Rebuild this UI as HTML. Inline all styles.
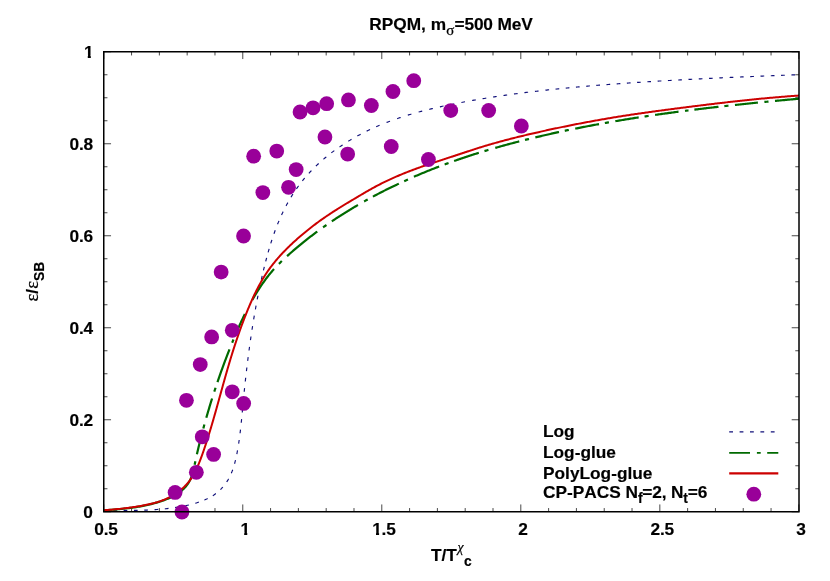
<!DOCTYPE html>
<html><head><meta charset="utf-8"><title>RPQM</title>
<style>
html,body{margin:0;padding:0;background:#fff;}
body{width:830px;height:581px;overflow:hidden;font-family:"Liberation Sans",sans-serif;}
svg{display:block;will-change:transform;}
</style></head><body>
<svg width="830" height="581" viewBox="0 0 830 581">
<rect width="830" height="581" fill="#fff"/>
<defs><clipPath id="cp"><rect x="103.75" y="43.75" width="695.25" height="476.00"/></clipPath></defs>
<defs><clipPath id="one"><rect x="0" y="-15" width="11" height="12.24"/><rect x="3.69" y="-3" width="3.07" height="4"/></clipPath></defs>
<path d="M103.75 511.75v-7.30M103.75 51.75v7.30M131.55 511.75v-3.70M131.55 51.75v3.70M159.36 511.75v-3.70M159.36 51.75v3.70M187.16 511.75v-3.70M187.16 51.75v3.70M214.97 511.75v-3.70M214.97 51.75v3.70M242.77 511.75v-7.30M242.77 51.75v7.30M270.57 511.75v-3.70M270.57 51.75v3.70M298.38 511.75v-3.70M298.38 51.75v3.70M326.18 511.75v-3.70M326.18 51.75v3.70M353.99 511.75v-3.70M353.99 51.75v3.70M381.79 511.75v-7.30M381.79 51.75v7.30M409.59 511.75v-3.70M409.59 51.75v3.70M437.40 511.75v-3.70M437.40 51.75v3.70M465.20 511.75v-3.70M465.20 51.75v3.70M493.01 511.75v-3.70M493.01 51.75v3.70M520.81 511.75v-7.30M520.81 51.75v7.30M548.61 511.75v-3.70M548.61 51.75v3.70M576.42 511.75v-3.70M576.42 51.75v3.70M604.22 511.75v-3.70M604.22 51.75v3.70M632.03 511.75v-3.70M632.03 51.75v3.70M659.83 511.75v-7.30M659.83 51.75v7.30M687.63 511.75v-3.70M687.63 51.75v3.70M715.44 511.75v-3.70M715.44 51.75v3.70M743.24 511.75v-3.70M743.24 51.75v3.70M771.05 511.75v-3.70M771.05 51.75v3.70M798.85 511.75v-7.30M798.85 51.75v7.30M103.75 511.75h7.30M799.00 511.75h-7.30M103.75 488.75h3.70M799.00 488.75h-3.70M103.75 465.75h3.70M799.00 465.75h-3.70M103.75 442.75h3.70M799.00 442.75h-3.70M103.75 419.75h7.30M799.00 419.75h-7.30M103.75 396.75h3.70M799.00 396.75h-3.70M103.75 373.75h3.70M799.00 373.75h-3.70M103.75 350.75h3.70M799.00 350.75h-3.70M103.75 327.75h7.30M799.00 327.75h-7.30M103.75 304.75h3.70M799.00 304.75h-3.70M103.75 281.75h3.70M799.00 281.75h-3.70M103.75 258.75h3.70M799.00 258.75h-3.70M103.75 235.75h7.30M799.00 235.75h-7.30M103.75 212.75h3.70M799.00 212.75h-3.70M103.75 189.75h3.70M799.00 189.75h-3.70M103.75 166.75h3.70M799.00 166.75h-3.70M103.75 143.75h7.30M799.00 143.75h-7.30M103.75 120.75h3.70M799.00 120.75h-3.70M103.75 97.75h3.70M799.00 97.75h-3.70M103.75 74.75h3.70M799.00 74.75h-3.70M103.75 51.75h7.30M799.00 51.75h-7.30" stroke="#000" stroke-width="0.72" fill="none"/>
<g clip-path="url(#cp)" fill="none" stroke-linejoin="round">
<path d="M104.19 511.02L105.49 510.98L106.79 510.94L108.08 510.91L109.38 510.87L110.67 510.84L111.97 510.81L113.26 510.79L114.55 510.76L115.85 510.74L117.14 510.72L118.43 510.69L119.72 510.67L121.01 510.65L122.30 510.63L123.59 510.62L124.87 510.60L126.16 510.58L127.45 510.56L128.73 510.54L130.02 510.52L131.30 510.49L132.59 510.47L133.87 510.44L135.16 510.42L136.44 510.39L137.72 510.36L139.00 510.33L140.29 510.29L141.57 510.25L142.85 510.21L144.13 510.17L145.41 510.12L146.69 510.07L147.97 510.01L149.25 509.95L150.53 509.89L151.81 509.82L153.09 509.75L154.36 509.67L155.64 509.59L156.92 509.50L158.20 509.41L159.47 509.31L160.75 509.20L162.03 509.09L163.30 508.97L164.58 508.85L165.86 508.72L167.13 508.58L168.41 508.43L169.68 508.28L170.96 508.12L172.24 507.95L173.51 507.78L174.79 507.59L176.06 507.40L177.34 507.20L178.61 506.98L179.89 506.76L181.16 506.53L182.44 506.30L183.71 506.05L184.99 505.79L186.26 505.52L187.54 505.24L188.81 504.95L190.09 504.65L191.36 504.33L192.63 504.00L193.89 503.66L195.15 503.30L196.40 502.93L197.65 502.54L198.89 502.13L200.12 501.71L201.34 501.27L202.55 500.80L203.75 500.32L204.94 499.82L206.11 499.29L207.27 498.75L208.42 498.17L209.55 497.58L210.67 496.96L211.76 496.32L212.84 495.65L213.90 494.95L214.94 494.22L215.96 493.47L216.96 492.69L217.94 491.88L218.89 491.05L219.82 490.19L220.73 489.31L221.62 488.40L222.47 487.47L223.31 486.51L224.12 485.54L224.90 484.54L225.65 483.52L226.38 482.49L227.07 481.43L227.74 480.35L228.39 479.25L229.00 478.14L229.59 477.01L230.15 475.87L230.69 474.71L231.20 473.53L231.70 472.34L232.17 471.14L232.62 469.93L233.05 468.71L233.46 467.48L233.85 466.24L234.22 464.99L234.58 463.73L234.92 462.47L235.25 461.20L235.56 459.93L235.86 458.65L236.14 457.37L236.42 456.09L236.68 454.81L236.94 453.53L237.18 452.25L237.42 450.96L237.65 449.68L237.87 448.40L238.09 447.13L238.30 445.85L238.50 444.57L238.70 443.30L238.89 442.02L239.07 440.75L239.25 439.48L239.42 438.20L239.59 436.93L239.76 435.66L239.92 434.38L240.08 433.11L240.23 431.84L240.38 430.56L240.53 429.29L240.67 428.01L240.82 426.74L240.96 425.46L241.09 424.18L241.23 422.91L241.36 421.63L241.49 420.35L241.62 419.08L241.75 417.80L241.87 416.52L242.00 415.24L242.12 413.96L242.24 412.68L242.36 411.41L242.48 410.13L242.60 408.85L242.72 407.57L242.84 406.29L242.96 405.01L243.08 403.73L243.20 402.45L243.32 401.17L243.44 399.89L243.56 398.61L243.68 397.33L243.80 396.05L243.92 394.77L244.05 393.49L244.17 392.21L244.30 390.93L244.42 389.65L244.55 388.37L244.68 387.09L244.82 385.81L244.95 384.53L245.09 383.26L245.23 381.98L245.36 380.70L245.50 379.42L245.65 378.14L245.79 376.86L245.93 375.58L246.08 374.31L246.23 373.03L246.37 371.75L246.52 370.47L246.67 369.19L246.83 367.91L246.98 366.63L247.13 365.36L247.29 364.08L247.45 362.80L247.60 361.52L247.76 360.24L247.92 358.97L248.09 357.69L248.25 356.41L248.41 355.13L248.58 353.86L248.75 352.58L248.92 351.30L249.09 350.02L249.26 348.75L249.43 347.47L249.61 346.19L249.78 344.92L249.96 343.64L250.14 342.36L250.32 341.09L250.50 339.81L250.69 338.54L250.87 337.26L251.06 335.99L251.25 334.71L251.44 333.44L251.63 332.16L251.83 330.89L252.02 329.62L252.22 328.34L252.42 327.07L252.62 325.80L252.82 324.52L253.03 323.25L253.24 321.98L253.44 320.71L253.65 319.44L253.87 318.17L254.08 316.90L254.30 315.63L254.52 314.36L254.74 313.09L254.96 311.82L255.18 310.55L255.41 309.28L255.64 308.01L255.87 306.75L256.10 305.48L256.33 304.21L256.57 302.95L256.81 301.68L257.05 300.42L257.29 299.15L257.54 297.89L257.78 296.63L258.03 295.36L258.29 294.10L258.54 292.84L258.80 291.58L259.05 290.32L259.31 289.06L259.58 287.80L259.84 286.54L260.11 285.28L260.38 284.02L260.65 282.76L260.93 281.51L261.21 280.25L261.49 279.00L261.77 277.74L262.06 276.49L262.34 275.23L262.63 273.98L262.93 272.73L263.22 271.48L263.52 270.23L263.82 268.98L264.12 267.73L264.43 266.48L264.74 265.23L265.05 263.98L265.36 262.74L265.68 261.49L266.00 260.25L266.32 259.00L266.65 257.76L266.98 256.52L267.32 255.28L267.66 254.04L268.00 252.80L268.35 251.56L268.70 250.33L269.06 249.10L269.42 247.86L269.79 246.63L270.16 245.40L270.54 244.17L270.92 242.95L271.30 241.72L271.70 240.50L272.09 239.28L272.50 238.05L272.91 236.84L273.32 235.62L273.74 234.41L274.17 233.19L274.61 231.98L275.05 230.77L275.50 229.57L275.95 228.36L276.41 227.16L276.88 225.96L277.36 224.76L277.84 223.56L278.33 222.37L278.83 221.18L279.33 219.99L279.85 218.80L280.37 217.62L280.90 216.44L281.43 215.26L281.98 214.09L282.53 212.92L283.09 211.75L283.66 210.59L284.24 209.43L284.82 208.28L285.41 207.13L286.01 205.98L286.62 204.84L287.24 203.70L287.87 202.57L288.50 201.44L289.14 200.32L289.79 199.20L290.45 198.09L291.12 196.99L291.79 195.89L292.48 194.79L293.17 193.70L293.87 192.62L294.58 191.55L295.30 190.48L296.03 189.41L296.76 188.36L297.51 187.31L298.26 186.27L299.02 185.23L299.80 184.21L300.58 183.18L301.37 182.17L302.16 181.17L302.97 180.17L303.78 179.17L304.60 178.19L305.43 177.21L306.27 176.24L307.12 175.28L307.97 174.32L308.83 173.37L309.70 172.43L310.58 171.49L311.46 170.56L312.35 169.64L313.25 168.72L314.16 167.82L315.07 166.92L315.99 166.02L316.92 165.14L317.86 164.26L318.80 163.38L319.75 162.52L320.70 161.66L321.66 160.80L322.63 159.96L323.60 159.12L324.58 158.29L325.57 157.46L326.56 156.65L327.56 155.83L328.56 155.03L329.57 154.23L330.59 153.44L331.61 152.66L332.64 151.88L333.67 151.11L334.71 150.35L335.75 149.59L336.80 148.84L337.85 148.10L338.91 147.36L339.98 146.63L341.04 145.91L342.12 145.19L343.19 144.49L344.28 143.78L345.36 143.09L346.45 142.40L347.55 141.72L348.65 141.04L349.75 140.37L350.86 139.71L351.97 139.05L353.09 138.40L354.21 137.76L355.33 137.13L356.46 136.50L357.59 135.87L358.73 135.26L359.86 134.65L361.00 134.05L362.15 133.45L363.29 132.86L364.44 132.28L365.60 131.70L366.75 131.13L367.91 130.57L369.07 130.01L370.24 129.46L371.40 128.92L372.57 128.38L373.74 127.85L374.92 127.32L376.09 126.81L377.27 126.29L378.45 125.79L379.64 125.29L380.82 124.79L382.01 124.30L383.20 123.82L384.39 123.34L385.59 122.87L386.78 122.41L387.98 121.95L389.18 121.49L390.38 121.04L391.59 120.60L392.80 120.16L394.01 119.73L395.22 119.30L396.43 118.88L397.64 118.46L398.86 118.05L400.08 117.64L401.30 117.24L402.52 116.84L403.74 116.45L404.97 116.06L406.19 115.68L407.42 115.30L408.65 114.92L409.88 114.56L411.12 114.19L412.35 113.83L413.59 113.47L414.82 113.12L416.06 112.77L417.30 112.43L418.54 112.09L419.79 111.75L421.03 111.42L422.28 111.09L423.52 110.76L424.77 110.44L426.02 110.13L427.27 109.81L428.52 109.50L429.77 109.19L431.02 108.89L432.28 108.59L433.53 108.29L434.79 108.00L436.04 107.71L437.30 107.42L438.56 107.14L439.82 106.86L441.08 106.58L442.34 106.30L443.60 106.03L444.86 105.76L446.13 105.49L447.39 105.23L448.65 104.97L449.92 104.71L451.18 104.45L452.45 104.20L453.71 103.94L454.98 103.69L456.24 103.45L457.51 103.20L458.78 102.96L460.05 102.71L461.31 102.48L462.58 102.24L463.85 102.00L465.12 101.77L466.39 101.53L467.66 101.30L468.92 101.07L470.19 100.85L471.46 100.62L472.73 100.40L474.00 100.18L475.27 99.96L476.54 99.74L477.81 99.52L479.08 99.30L480.35 99.09L481.62 98.88L482.90 98.67L484.17 98.46L485.44 98.25L486.71 98.05L487.98 97.85L489.25 97.64L490.52 97.44L491.80 97.24L493.07 97.05L494.34 96.85L495.61 96.66L496.89 96.47L498.16 96.27L499.43 96.08L500.71 95.90L501.98 95.71L503.25 95.53L504.53 95.34L505.80 95.16L507.08 94.98L508.35 94.80L509.63 94.62L510.90 94.45L512.18 94.27L513.45 94.10L514.73 93.93L516.00 93.76L517.28 93.59L518.55 93.42L519.83 93.25L521.10 93.09L522.38 92.92L523.66 92.76L524.93 92.60L526.21 92.44L527.49 92.28L528.76 92.13L530.04 91.97L531.32 91.82L532.59 91.66L533.87 91.51L535.15 91.36L536.43 91.21L537.70 91.06L538.98 90.91L540.26 90.77L541.54 90.62L542.82 90.48L544.10 90.34L545.37 90.20L546.65 90.06L547.93 89.92L549.21 89.78L550.49 89.64L551.77 89.51L553.05 89.37L554.33 89.24L555.61 89.11L556.89 88.98L558.17 88.85L559.45 88.72L560.73 88.59L562.01 88.46L563.29 88.34L564.57 88.21L565.85 88.09L567.13 87.96L568.41 87.84L569.69 87.72L570.97 87.60L572.25 87.48L573.53 87.36L574.81 87.24L576.10 87.13L577.38 87.01L578.66 86.90L579.94 86.78L581.22 86.67L582.50 86.56L583.79 86.45L585.07 86.34L586.35 86.23L587.63 86.12L588.91 86.01L590.20 85.90L591.48 85.80L592.76 85.69L594.04 85.59L595.33 85.48L596.61 85.38L597.89 85.28L599.18 85.17L600.46 85.07L601.74 84.97L603.02 84.87L604.31 84.77L605.59 84.67L606.87 84.58L608.16 84.48L609.44 84.38L610.73 84.29L612.01 84.19L613.29 84.10L614.58 84.00L615.86 83.91L617.14 83.82L618.43 83.72L619.71 83.63L621.00 83.54L622.28 83.45L623.57 83.36L624.85 83.27L626.13 83.18L627.42 83.09L628.70 83.01L629.99 82.92L631.27 82.83L632.56 82.75L633.84 82.66L635.13 82.57L636.41 82.49L637.70 82.41L638.98 82.32L640.27 82.24L641.55 82.16L642.84 82.07L644.12 81.99L645.41 81.91L646.69 81.83L647.98 81.75L649.26 81.67L650.55 81.59L651.83 81.51L653.12 81.43L654.40 81.35L655.69 81.28L656.97 81.20L658.26 81.12L659.55 81.05L660.83 80.97L662.12 80.90L663.40 80.82L664.69 80.75L665.97 80.67L667.26 80.60L668.55 80.53L669.83 80.45L671.12 80.38L672.40 80.31L673.69 80.24L674.98 80.17L676.26 80.10L677.55 80.03L678.83 79.96L680.12 79.89L681.41 79.82L682.69 79.75L683.98 79.68L685.26 79.61L686.55 79.54L687.84 79.48L689.12 79.41L690.41 79.34L691.70 79.28L692.98 79.21L694.27 79.15L695.55 79.08L696.84 79.02L698.13 78.95L699.41 78.89L700.70 78.82L701.99 78.76L703.27 78.70L704.56 78.64L705.85 78.57L707.13 78.51L708.42 78.45L709.71 78.39L710.99 78.33L712.28 78.27L713.56 78.20L714.85 78.14L716.14 78.08L717.42 78.02L718.71 77.97L720.00 77.91L721.28 77.85L722.57 77.79L723.86 77.73L725.14 77.67L726.43 77.61L727.72 77.56L729.00 77.50L730.29 77.44L731.58 77.39L732.86 77.33L734.15 77.27L735.43 77.22L736.72 77.16L738.01 77.11L739.29 77.05L740.58 77.00L741.87 76.94L743.15 76.89L744.44 76.83L745.73 76.78L747.01 76.72L748.30 76.67L749.58 76.62L750.87 76.56L752.16 76.51L753.44 76.46L754.73 76.40L756.02 76.35L757.30 76.30L758.59 76.25L759.87 76.19L761.16 76.14L762.45 76.09L763.73 76.04L765.02 75.99L766.30 75.94L767.59 75.88L768.88 75.83L770.16 75.78L771.45 75.73L772.73 75.68L774.02 75.63L775.31 75.58L776.59 75.53L777.88 75.48L779.16 75.43L780.45 75.38L781.73 75.33L783.02 75.28L784.30 75.23L785.59 75.18L786.88 75.13L788.16 75.08L789.45 75.03L790.73 74.98L792.02 74.94L793.30 74.89L794.59 74.84L795.87 74.79L797.16 74.74L798.44 74.69L799.08 74.67" stroke="#10107a" stroke-width="1.15" stroke-dasharray="2.47 6.63 3.70 6.63 3.70 6.63 3.70 6.62 3.70 6.62 3.70 6.62 3.70 6.62 3.70 6.62 3.70 6.62 3.70 5.90 3.70 5.90 3.70 5.90 3.70 6.29 3.70 6.29 3.70 6.29 3.70 6.29 3.70 6.82 3.70 6.82 3.70 6.82 3.70 6.68 3.70 6.68 3.70 6.68 3.70 6.68 3.70 6.68 3.70 6.68 3.70 6.68 3.70 6.82 3.70 6.82 3.70 6.82 3.70 6.44 3.70 6.44 3.70 6.44 3.70 6.44 3.70 5.62 3.70 5.62 3.70 5.62 3.70 5.62 3.70 6.46 3.70 6.46 3.70 6.46 3.70 6.46 3.70 6.27 3.70 6.27 3.70 6.27 3.70 6.27 3.70 6.43 3.70 6.43 3.70 6.43 3.70 6.43 3.70 6.77 3.70 6.77 3.70 6.77 3.70 6.77 3.70 7.54 3.70 7.54 3.70 7.54 3.70 7.54 3.70 7.26 3.70 7.26 3.70 7.26 3.70 7.26 3.70 7.26 3.70 6.87 3.70 6.87 3.70 6.87 3.70 6.87 3.70 6.87 3.70 6.87 3.70 6.87 3.70 6.52 3.70 6.52 3.70 6.52 3.70 6.52 3.70 6.52 3.70 6.52 3.70 6.52 3.70 6.52 3.70 6.52 3.70 6.60 3.70 6.60 3.70 6.60 3.70 6.60 3.70 6.60 3.70 6.60 3.70 6.60 3.70 6.60 3.70 6.60 3.70 6.60 3.70 6.60 3.70 6.60 3.70 6.60 3.70 6.60 3.70 6.60 3.70 50.00"/>
<path d="M104.20 510.41L105.39 510.32L106.58 510.23L107.77 510.13L108.96 510.04L110.15 509.94L111.33 509.85L112.52 509.75L113.70 509.65L114.89 509.55L116.07 509.45L117.25 509.34L118.43 509.23L119.61 509.12L120.78 509.01L121.96 508.89L123.14 508.77L124.31 508.64L125.48 508.51L126.65 508.38L127.82 508.24L128.99 508.10L130.16 507.95L131.33 507.80L132.49 507.64L133.66 507.47L134.82 507.30L135.98 507.13L137.15 506.94L138.31 506.75L139.46 506.55L140.62 506.35L141.78 506.14L142.93 505.92L144.09 505.69L145.24 505.46L146.39 505.21L147.54 504.96L148.69 504.70L149.84 504.43L150.98 504.15L152.13 503.86L153.27 503.56L154.42 503.25L155.56 502.93L156.70 502.60L157.84 502.26L158.98 501.90L160.11 501.54L161.25 501.16L162.38 500.78L163.51 500.37L164.64 499.96L165.77 499.53L166.89 499.08L168.01 498.62L169.12 498.14L170.22 497.65L171.32 497.13L172.40 496.59L173.48 496.04L174.54 495.46L175.58 494.87L176.61 494.25L177.62 493.61L178.61 492.94L179.58 492.25L180.52 491.54L181.44 490.80L182.34 490.04L183.21 489.25L184.04 488.43L184.85 487.59L185.63 486.73L186.37 485.84L187.08 484.93L187.75 484.00L188.39 483.04L188.99 482.06L189.55 481.06L190.07 480.03L190.56 478.99L191.01 477.93L191.43 476.85L191.83 475.76L192.19 474.65L192.54 473.53L192.86 472.40L193.16 471.26L193.45 470.10L193.73 468.95L193.99 467.78L194.24 466.62L194.49 465.45L194.74 464.27L194.99 463.10L195.24 461.93L195.49 460.76L195.74 459.59L195.99 458.43L196.25 457.26L196.51 456.10L196.77 454.93L197.03 453.77L197.29 452.61L197.56 451.46L197.83 450.30L198.10 449.14L198.37 447.99L198.65 446.83L198.93 445.68L199.21 444.53L199.49 443.38L199.77 442.23L200.05 441.08L200.34 439.93L200.63 438.78L200.92 437.64L201.21 436.49L201.51 435.35L201.81 434.20L202.10 433.06L202.41 431.92L202.71 430.78L203.01 429.64L203.32 428.50L203.63 427.36L203.94 426.22L204.25 425.08L204.56 423.94L204.88 422.81L205.20 421.67L205.52 420.53L205.84 419.40L206.16 418.26L206.48 417.13L206.81 415.99L207.14 414.86L207.47 413.73L207.80 412.59L208.13 411.46L208.47 410.33L208.81 409.20L209.15 408.07L209.49 406.93L209.83 405.80L210.17 404.67L210.52 403.54L210.87 402.41L211.22 401.29L211.57 400.16L211.92 399.03L212.28 397.90L212.64 396.77L213.00 395.65L213.36 394.52L213.72 393.40L214.08 392.27L214.45 391.15L214.82 390.02L215.19 388.90L215.56 387.77L215.93 386.65L216.31 385.53L216.69 384.41L217.06 383.29L217.44 382.17L217.83 381.05L218.21 379.93L218.60 378.81L218.99 377.69L219.38 376.57L219.77 375.46L220.16 374.34L220.56 373.22L220.95 372.11L221.35 370.99L221.75 369.88L222.15 368.76L222.56 367.65L222.97 366.54L223.37 365.43L223.78 364.32L224.19 363.20L224.61 362.09L225.02 360.99L225.44 359.88L225.86 358.77L226.28 357.66L226.70 356.55L227.13 355.45L227.55 354.34L227.98 353.24L228.41 352.13L228.84 351.03L229.28 349.93L229.71 348.83L230.15 347.72L230.59 346.62L231.03 345.52L231.47 344.42L231.92 343.33L232.36 342.23L232.81 341.13L233.26 340.03L233.71 338.94L234.17 337.84L234.62 336.75L235.08 335.66L235.54 334.57L236.00 333.47L236.47 332.38L236.94 331.30L237.41 330.21L237.88 329.12L238.36 328.04L238.83 326.96L239.32 325.87L239.80 324.79L240.29 323.71L240.78 322.64L241.27 321.56L241.77 320.49L242.27 319.42L242.78 318.35L243.29 317.28L243.80 316.21L244.31 315.15L244.83 314.09L245.36 313.03L245.88 311.97L246.41 310.91L246.95 309.86L247.49 308.81L248.03 307.76L248.58 306.71L249.14 305.67L249.69 304.63L250.26 303.59L250.83 302.56L251.40 301.52L251.98 300.49L252.56 299.47L253.15 298.44L253.74 297.42L254.34 296.40L254.94 295.39L255.55 294.37L256.16 293.37L256.78 292.36L257.41 291.36L258.04 290.36L258.68 289.36L259.32 288.37L259.97 287.38L260.63 286.40L261.29 285.42L261.96 284.44L262.63 283.47L263.31 282.50L264.00 281.53L264.70 280.57L265.40 279.62L266.11 278.67L266.82 277.72L267.55 276.78L268.28 275.85L269.01 274.92L269.76 274.00L270.51 273.09L271.27 272.18L272.04 271.28L272.82 270.38L273.60 269.50L274.39 268.62L275.20 267.75L276.00 266.88L276.82 266.02L277.64 265.17L278.47 264.33L279.31 263.49L280.15 262.66L281.00 261.83L281.85 261.01L282.71 260.20L283.57 259.38L284.44 258.58L285.31 257.77L286.18 256.97L287.05 256.18L287.93 255.38L288.81 254.59L289.70 253.80L290.58 253.02L291.47 252.24L292.36 251.46L293.26 250.68L294.15 249.91L295.05 249.14L295.95 248.37L296.85 247.61L297.76 246.84L298.67 246.09L299.58 245.33L300.49 244.58L301.41 243.83L302.32 243.08L303.24 242.34L304.17 241.60L305.09 240.86L306.02 240.12L306.95 239.39L307.88 238.66L308.81 237.93L309.74 237.21L310.68 236.49L311.62 235.77L312.56 235.05L313.51 234.34L314.45 233.63L315.40 232.92L316.35 232.22L317.31 231.52L318.26 230.82L319.22 230.12L320.18 229.43L321.14 228.74L322.10 228.05L323.06 227.36L324.03 226.68L325.00 226.00L325.97 225.32L326.94 224.65L327.91 223.97L328.89 223.30L329.87 222.64L330.85 221.97L331.83 221.31L332.81 220.65L333.80 220.00L334.78 219.34L335.77 218.69L336.76 218.04L337.75 217.40L338.75 216.75L339.74 216.11L340.74 215.48L341.74 214.84L342.74 214.21L343.74 213.58L344.74 212.95L345.75 212.32L346.75 211.70L347.76 211.08L348.77 210.46L349.78 209.85L350.80 209.23L351.81 208.62L352.83 208.01L353.84 207.41L354.86 206.81L355.88 206.21L356.90 205.61L357.93 205.01L358.95 204.42L359.98 203.83L361.00 203.24L362.03 202.65L363.06 202.07L364.09 201.49L365.12 200.91L366.16 200.33L367.19 199.76L368.23 199.19L369.26 198.62L370.30 198.05L371.34 197.49L372.38 196.92L373.43 196.36L374.47 195.81L375.51 195.25L376.56 194.70L377.61 194.15L378.66 193.60L379.71 193.05L380.76 192.51L381.81 191.97L382.86 191.43L383.92 190.89L384.97 190.36L386.03 189.83L387.09 189.30L388.15 188.77L389.21 188.25L390.27 187.72L391.33 187.20L392.40 186.69L393.46 186.17L394.53 185.66L395.60 185.15L396.66 184.64L397.73 184.13L398.80 183.63L399.87 183.12L400.95 182.62L402.02 182.13L403.10 181.63L404.17 181.14L405.25 180.65L406.33 180.16L407.40 179.67L408.48 179.19L409.57 178.71L410.65 178.23L411.73 177.75L412.81 177.27L413.90 176.80L414.98 176.33L416.07 175.86L417.16 175.40L418.25 174.93L419.34 174.47L420.43 174.01L421.52 173.55L422.61 173.10L423.71 172.64L424.80 172.19L425.89 171.74L426.99 171.30L428.09 170.85L429.19 170.41L430.28 169.97L431.38 169.53L432.48 169.09L433.58 168.66L434.69 168.23L435.79 167.80L436.89 167.37L438.00 166.95L439.10 166.52L440.21 166.10L441.32 165.68L442.42 165.27L443.53 164.85L444.64 164.44L445.75 164.03L446.86 163.62L447.97 163.21L449.09 162.81L450.20 162.41L451.31 162.01L452.43 161.61L453.54 161.21L454.66 160.82L455.77 160.42L456.89 160.03L458.01 159.65L459.13 159.26L460.25 158.88L461.37 158.50L462.49 158.12L463.61 157.74L464.73 157.36L465.85 156.99L466.98 156.61L468.10 156.24L469.22 155.88L470.35 155.51L471.47 155.15L472.60 154.78L473.73 154.42L474.85 154.06L475.98 153.71L477.11 153.35L478.24 153.00L479.37 152.65L480.50 152.30L481.63 151.95L482.76 151.60L483.89 151.26L485.03 150.92L486.16 150.58L487.29 150.24L488.43 149.90L489.56 149.56L490.70 149.23L491.83 148.90L492.97 148.57L494.11 148.24L495.24 147.91L496.38 147.59L497.52 147.26L498.66 146.94L499.80 146.62L500.94 146.30L502.08 145.98L503.22 145.67L504.36 145.35L505.50 145.04L506.64 144.73L507.78 144.42L508.93 144.11L510.07 143.80L511.21 143.50L512.36 143.20L513.50 142.89L514.64 142.59L515.79 142.29L516.93 142.00L518.08 141.70L519.23 141.40L520.37 141.11L521.52 140.82L522.67 140.53L523.81 140.24L524.96 139.95L526.11 139.67L527.26 139.38L528.41 139.10L529.56 138.81L530.71 138.53L531.86 138.25L533.01 137.97L534.16 137.70L535.31 137.42L536.46 137.15L537.61 136.87L538.76 136.60L539.91 136.33L541.07 136.06L542.22 135.79L543.37 135.53L544.53 135.26L545.68 135.00L546.83 134.73L547.99 134.47L549.14 134.21L550.29 133.95L551.45 133.69L552.60 133.44L553.76 133.18L554.92 132.93L556.07 132.67L557.23 132.42L558.38 132.17L559.54 131.92L560.70 131.67L561.85 131.42L563.01 131.18L564.17 130.93L565.33 130.69L566.48 130.44L567.64 130.20L568.80 129.96L569.96 129.72L571.12 129.48L572.28 129.25L573.44 129.01L574.60 128.78L575.76 128.54L576.92 128.31L578.08 128.08L579.24 127.85L580.40 127.62L581.56 127.39L582.72 127.16L583.88 126.93L585.04 126.71L586.20 126.48L587.37 126.26L588.53 126.04L589.69 125.82L590.85 125.60L592.02 125.38L593.18 125.16L594.34 124.94L595.50 124.73L596.67 124.51L597.83 124.30L598.99 124.08L600.16 123.87L601.32 123.66L602.49 123.45L603.65 123.24L604.82 123.03L605.98 122.83L607.15 122.62L608.31 122.41L609.48 122.21L610.64 122.01L611.81 121.80L612.97 121.60L614.14 121.40L615.31 121.20L616.47 121.00L617.64 120.81L618.80 120.61L619.97 120.41L621.14 120.22L622.31 120.02L623.47 119.83L624.64 119.64L625.81 119.45L626.98 119.26L628.14 119.07L629.31 118.88L630.48 118.69L631.65 118.50L632.82 118.32L633.99 118.13L635.15 117.95L636.32 117.77L637.49 117.58L638.66 117.40L639.83 117.22L641.00 117.04L642.17 116.86L643.34 116.68L644.51 116.51L645.68 116.33L646.85 116.15L648.02 115.98L649.19 115.80L650.36 115.63L651.53 115.46L652.70 115.29L653.87 115.12L655.05 114.94L656.22 114.78L657.39 114.61L658.56 114.44L659.73 114.27L660.90 114.11L662.07 113.94L663.25 113.78L664.42 113.61L665.59 113.45L666.76 113.29L667.94 113.12L669.11 112.96L670.28 112.80L671.45 112.64L672.63 112.48L673.80 112.33L674.97 112.17L676.15 112.01L677.32 111.86L678.49 111.70L679.67 111.55L680.84 111.39L682.01 111.24L683.19 111.09L684.36 110.93L685.54 110.78L686.71 110.63L687.88 110.48L689.06 110.33L690.23 110.18L691.41 110.04L692.58 109.89L693.76 109.74L694.93 109.60L696.10 109.45L697.28 109.31L698.45 109.16L699.63 109.02L700.80 108.88L701.98 108.73L703.16 108.59L704.33 108.45L705.51 108.31L706.68 108.17L707.86 108.03L709.03 107.89L710.21 107.76L711.38 107.62L712.56 107.48L713.74 107.35L714.91 107.21L716.09 107.07L717.26 106.94L718.44 106.81L719.62 106.67L720.79 106.54L721.97 106.41L723.14 106.28L724.32 106.14L725.50 106.01L726.67 105.88L727.85 105.75L729.03 105.62L730.20 105.50L731.38 105.37L732.56 105.24L733.73 105.11L734.91 104.99L736.09 104.86L737.26 104.73L738.44 104.61L739.62 104.48L740.79 104.36L741.97 104.24L743.15 104.11L744.33 103.99L745.50 103.87L746.68 103.74L747.86 103.62L749.03 103.50L750.21 103.38L751.39 103.26L752.57 103.14L753.74 103.02L754.92 102.90L756.10 102.78L757.28 102.67L758.45 102.55L759.63 102.43L760.81 102.31L761.99 102.20L763.16 102.08L764.34 101.96L765.52 101.85L766.70 101.73L767.87 101.62L769.05 101.50L770.23 101.39L771.41 101.28L772.58 101.16L773.76 101.05L774.94 100.94L776.12 100.83L777.29 100.71L778.47 100.60L779.65 100.49L780.83 100.38L782.00 100.27L783.18 100.16L784.36 100.05L785.53 99.94L786.71 99.83L787.89 99.72L789.07 99.61L790.24 99.50L791.42 99.40L792.60 99.29L793.78 99.18L794.95 99.07L796.13 98.97L797.31 98.86L798.49 98.75L799.07 98.70" stroke="#006a00" stroke-width="2.2" stroke-dasharray="99.89 10.68 3.59 7.16 20.15 6.49 4.13 7.08 20.08 7.10 4.14 5.92 34.94 7.11 3.56 7.11 20.71 15.95 37.87 7.10 4.14 7.10 39.05 7.10 4.14 6.51 30.78 7.10 4.14 5.92 28.99 5.92 4.14 6.51 27.22 5.92 4.14 5.92 26.03 5.92 4.14 7.10 24.85 5.92 4.14 6.51 24.26 5.92 4.14 6.51 24.25 5.92 4.14 6.51 23.66 5.92 4.14 6.51 23.67 6.51 3.55 5.92 24.27 5.92 4.14 6.51 23.08 6.51 4.14 6.51 24.24 50.00"/>
<path d="M104.21 510.21L105.39 510.12L106.58 510.03L107.76 509.94L108.95 509.84L110.13 509.75L111.32 509.65L112.50 509.54L113.69 509.44L114.87 509.33L116.05 509.22L117.23 509.11L118.41 508.99L119.60 508.87L120.78 508.75L121.96 508.62L123.14 508.49L124.32 508.36L125.50 508.22L126.67 508.07L127.85 507.93L129.03 507.77L130.21 507.61L131.38 507.45L132.56 507.28L133.73 507.11L134.91 506.93L136.08 506.75L137.26 506.56L138.43 506.36L139.60 506.16L140.77 505.95L141.94 505.73L143.11 505.51L144.28 505.28L145.45 505.04L146.62 504.80L147.79 504.55L148.96 504.29L150.12 504.02L151.29 503.74L152.45 503.46L153.61 503.16L154.77 502.85L155.92 502.52L157.07 502.19L158.22 501.83L159.35 501.46L160.49 501.08L161.61 500.67L162.73 500.25L163.84 499.81L164.95 499.35L166.04 498.88L167.13 498.38L168.21 497.87L169.27 497.34L170.33 496.79L171.38 496.22L172.41 495.64L173.44 495.03L174.45 494.41L175.45 493.77L176.43 493.12L177.40 492.44L178.36 491.75L179.30 491.04L180.23 490.31L181.14 489.56L182.04 488.79L182.92 488.01L183.78 487.21L184.62 486.39L185.45 485.55L186.26 484.70L187.05 483.82L187.82 482.93L188.57 482.02L189.30 481.10L190.01 480.15L190.70 479.19L191.36 478.20L192.01 477.21L192.64 476.20L193.25 475.17L193.84 474.13L194.41 473.08L194.97 472.02L195.51 470.95L196.04 469.87L196.55 468.79L197.05 467.70L197.54 466.60L198.02 465.50L198.49 464.39L198.95 463.28L199.40 462.17L199.84 461.06L200.27 459.94L200.69 458.82L201.11 457.70L201.52 456.59L201.93 455.47L202.33 454.34L202.73 453.22L203.12 452.10L203.51 450.98L203.90 449.85L204.28 448.73L204.66 447.60L205.04 446.47L205.42 445.35L205.79 444.22L206.16 443.09L206.53 441.96L206.89 440.83L207.25 439.69L207.61 438.56L207.97 437.43L208.33 436.29L208.68 435.16L209.03 434.03L209.38 432.89L209.73 431.75L210.08 430.62L210.42 429.48L210.77 428.34L211.11 427.20L211.45 426.06L211.78 424.92L212.12 423.78L212.45 422.64L212.79 421.50L213.12 420.36L213.45 419.22L213.78 418.07L214.11 416.93L214.43 415.79L214.76 414.64L215.08 413.50L215.41 412.36L215.73 411.21L216.05 410.07L216.38 408.92L216.70 407.78L217.02 406.63L217.34 405.49L217.66 404.34L217.97 403.19L218.29 402.05L218.61 400.90L218.93 399.76L219.24 398.61L219.56 397.46L219.88 396.32L220.19 395.17L220.51 394.02L220.83 392.88L221.14 391.73L221.46 390.58L221.78 389.44L222.10 388.29L222.41 387.15L222.73 386.00L223.05 384.85L223.37 383.71L223.69 382.56L224.01 381.42L224.33 380.27L224.65 379.13L224.98 377.98L225.30 376.84L225.62 375.69L225.95 374.55L226.27 373.41L226.60 372.26L226.93 371.12L227.26 369.98L227.59 368.84L227.92 367.70L228.26 366.56L228.59 365.41L228.93 364.27L229.27 363.14L229.61 362.00L229.95 360.86L230.29 359.72L230.64 358.58L230.98 357.44L231.33 356.31L231.68 355.17L232.03 354.04L232.39 352.90L232.74 351.77L233.10 350.63L233.46 349.50L233.82 348.37L234.18 347.24L234.55 346.11L234.92 344.98L235.28 343.85L235.66 342.72L236.03 341.59L236.41 340.46L236.79 339.34L237.17 338.21L237.55 337.09L237.93 335.96L238.32 334.84L238.71 333.71L239.11 332.59L239.50 331.47L239.90 330.35L240.30 329.23L240.70 328.11L241.11 326.99L241.52 325.88L241.93 324.76L242.34 323.65L242.76 322.53L243.18 321.42L243.60 320.30L244.03 319.19L244.46 318.08L244.89 316.97L245.32 315.86L245.76 314.76L246.20 313.65L246.64 312.54L247.09 311.44L247.54 310.33L247.99 309.23L248.45 308.13L248.91 307.03L249.37 305.93L249.84 304.83L250.31 303.74L250.79 302.64L251.27 301.55L251.75 300.46L252.24 299.37L252.73 298.29L253.23 297.21L253.73 296.13L254.24 295.05L254.76 293.97L255.28 292.90L255.80 291.83L256.33 290.77L256.87 289.70L257.41 288.64L257.96 287.59L258.51 286.54L259.07 285.49L259.64 284.45L260.22 283.41L260.80 282.37L261.39 281.34L261.98 280.32L262.59 279.29L263.20 278.28L263.82 277.27L264.44 276.26L265.08 275.26L265.72 274.26L266.37 273.27L267.03 272.29L267.70 271.31L268.37 270.33L269.06 269.37L269.75 268.41L270.45 267.45L271.16 266.50L271.88 265.56L272.61 264.62L273.35 263.69L274.09 262.76L274.84 261.84L275.60 260.92L276.36 260.01L277.13 259.11L277.91 258.21L278.70 257.31L279.49 256.42L280.29 255.54L281.09 254.66L281.90 253.78L282.72 252.92L283.54 252.05L284.37 251.19L285.20 250.34L286.04 249.49L286.88 248.64L287.73 247.80L288.58 246.97L289.44 246.14L290.30 245.31L291.16 244.49L292.03 243.67L292.91 242.86L293.78 242.05L294.66 241.25L295.55 240.45L296.43 239.65L297.32 238.86L298.22 238.07L299.11 237.29L300.01 236.51L300.91 235.73L301.82 234.96L302.72 234.19L303.64 233.43L304.55 232.67L305.47 231.91L306.39 231.16L307.31 230.42L308.23 229.67L309.16 228.93L310.09 228.20L311.03 227.46L311.97 226.74L312.91 226.01L313.85 225.29L314.80 224.58L315.75 223.87L316.70 223.16L317.65 222.45L318.61 221.75L319.57 221.06L320.54 220.36L321.50 219.68L322.47 218.99L323.45 218.31L324.42 217.63L325.40 216.96L326.38 216.29L327.37 215.62L328.35 214.96L329.34 214.30L330.33 213.65L331.33 212.99L332.32 212.34L333.32 211.70L334.32 211.06L335.33 210.41L336.33 209.78L337.34 209.14L338.35 208.51L339.36 207.88L340.37 207.25L341.38 206.62L342.40 206.00L343.41 205.38L344.43 204.76L345.45 204.14L346.47 203.52L347.49 202.90L348.51 202.29L349.53 201.68L350.55 201.06L351.58 200.45L352.60 199.84L353.62 199.24L354.65 198.63L355.67 198.02L356.70 197.41L357.72 196.81L358.75 196.20L359.77 195.59L360.80 194.99L361.82 194.39L362.85 193.78L363.87 193.18L364.90 192.58L365.93 191.98L366.96 191.39L367.99 190.80L369.02 190.21L370.06 189.62L371.09 189.04L372.13 188.46L373.17 187.89L374.21 187.32L375.25 186.75L376.30 186.19L377.35 185.63L378.40 185.08L379.46 184.54L380.52 184.00L381.58 183.46L382.64 182.93L383.70 182.40L384.77 181.88L385.84 181.37L386.91 180.85L387.99 180.35L389.07 179.84L390.14 179.34L391.23 178.85L392.31 178.36L393.39 177.87L394.48 177.39L395.57 176.91L396.66 176.44L397.75 175.97L398.85 175.51L399.95 175.04L401.04 174.59L402.14 174.13L403.25 173.68L404.35 173.24L405.45 172.79L406.56 172.35L407.67 171.92L408.78 171.48L409.89 171.06L411.00 170.63L412.11 170.21L413.23 169.79L414.34 169.37L415.46 168.96L416.57 168.55L417.69 168.14L418.81 167.73L419.93 167.33L421.05 166.93L422.18 166.54L423.30 166.14L424.42 165.75L425.55 165.36L426.67 164.98L427.80 164.59L428.93 164.21L430.05 163.83L431.18 163.45L432.31 163.08L433.44 162.70L434.57 162.33L435.69 161.96L436.82 161.59L437.95 161.22L439.08 160.85L440.21 160.48L441.34 160.11L442.48 159.74L443.61 159.38L444.74 159.01L445.87 158.64L447.00 158.27L448.13 157.91L449.26 157.54L450.39 157.17L451.52 156.80L452.65 156.43L453.78 156.06L454.91 155.69L456.03 155.32L457.16 154.94L458.29 154.57L459.42 154.19L460.55 153.82L461.68 153.44L462.80 153.07L463.93 152.69L465.06 152.32L466.19 151.94L467.32 151.57L468.45 151.20L469.58 150.83L470.71 150.46L471.84 150.09L472.97 149.72L474.10 149.35L475.23 148.99L476.36 148.63L477.49 148.27L478.63 147.91L479.76 147.56L480.90 147.20L482.04 146.85L483.17 146.51L484.31 146.16L485.45 145.82L486.59 145.48L487.73 145.14L488.87 144.80L490.01 144.47L491.15 144.14L492.30 143.81L493.44 143.48L494.58 143.16L495.73 142.84L496.87 142.52L498.02 142.20L499.17 141.88L500.31 141.57L501.46 141.25L502.61 140.94L503.76 140.64L504.91 140.33L506.06 140.03L507.21 139.72L508.36 139.42L509.51 139.12L510.66 138.83L511.82 138.53L512.97 138.24L514.12 137.94L515.28 137.65L516.43 137.37L517.59 137.08L518.74 136.79L519.90 136.51L521.05 136.23L522.21 135.95L523.37 135.67L524.52 135.39L525.68 135.11L526.84 134.84L528.00 134.56L529.16 134.29L530.32 134.02L531.48 133.75L532.63 133.48L533.79 133.22L534.95 132.95L536.12 132.69L537.28 132.42L538.44 132.16L539.60 131.90L540.76 131.64L541.92 131.38L543.08 131.12L544.24 130.87L545.41 130.61L546.57 130.35L547.73 130.10L548.89 129.85L550.06 129.60L551.22 129.35L552.38 129.10L553.54 128.85L554.71 128.60L555.87 128.35L557.03 128.11L558.20 127.86L559.36 127.62L560.53 127.38L561.69 127.13L562.86 126.89L564.02 126.65L565.19 126.42L566.35 126.18L567.52 125.94L568.68 125.71L569.85 125.47L571.01 125.24L572.18 125.01L573.34 124.77L574.51 124.54L575.68 124.32L576.84 124.09L578.01 123.86L579.18 123.63L580.35 123.41L581.51 123.19L582.68 122.96L583.85 122.74L585.02 122.52L586.19 122.30L587.35 122.08L588.52 121.87L589.69 121.65L590.86 121.43L592.03 121.22L593.20 121.01L594.37 120.80L595.54 120.59L596.71 120.38L597.88 120.17L599.05 119.96L600.22 119.75L601.39 119.55L602.56 119.34L603.73 119.14L604.91 118.94L606.08 118.74L607.25 118.54L608.42 118.34L609.59 118.14L610.77 117.95L611.94 117.75L613.11 117.56L614.28 117.36L615.46 117.17L616.63 116.98L617.81 116.79L618.98 116.60L620.15 116.42L621.33 116.23L622.50 116.05L623.68 115.86L624.85 115.68L626.03 115.50L627.20 115.32L628.38 115.14L629.56 114.96L630.73 114.78L631.91 114.61L633.08 114.43L634.26 114.26L635.44 114.08L636.62 113.91L637.79 113.74L638.97 113.57L640.15 113.40L641.32 113.23L642.50 113.06L643.68 112.89L644.86 112.72L646.04 112.56L647.21 112.39L648.39 112.23L649.57 112.06L650.75 111.90L651.93 111.74L653.11 111.58L654.29 111.42L655.47 111.26L656.65 111.10L657.82 110.94L659.00 110.78L660.18 110.62L661.36 110.46L662.54 110.31L663.72 110.15L664.90 109.99L666.08 109.84L667.26 109.68L668.44 109.53L669.62 109.37L670.80 109.22L671.98 109.07L673.16 108.91L674.34 108.76L675.52 108.61L676.70 108.46L677.88 108.31L679.06 108.15L680.24 108.00L681.42 107.85L682.60 107.70L683.78 107.55L684.96 107.40L686.14 107.25L687.32 107.10L688.50 106.95L689.68 106.80L690.86 106.65L692.04 106.51L693.22 106.36L694.40 106.21L695.58 106.06L696.76 105.91L697.95 105.77L699.13 105.62L700.31 105.47L701.49 105.33L702.67 105.18L703.85 105.04L705.03 104.89L706.21 104.75L707.39 104.61L708.57 104.46L709.75 104.32L710.93 104.18L712.11 104.03L713.29 103.89L714.47 103.75L715.65 103.61L716.83 103.47L718.01 103.33L719.20 103.19L720.38 103.05L721.56 102.92L722.74 102.78L723.92 102.64L725.10 102.51L726.28 102.37L727.46 102.23L728.65 102.10L729.83 101.97L731.01 101.83L732.19 101.70L733.37 101.57L734.55 101.44L735.74 101.31L736.92 101.18L738.10 101.05L739.28 100.92L740.46 100.79L741.65 100.66L742.83 100.54L744.01 100.41L745.19 100.29L746.37 100.16L747.56 100.04L748.74 99.92L749.92 99.79L751.11 99.67L752.29 99.55L753.47 99.43L754.65 99.31L755.84 99.20L757.02 99.08L758.21 98.96L759.39 98.85L760.57 98.73L761.76 98.62L762.94 98.51L764.12 98.40L765.31 98.28L766.49 98.18L767.68 98.07L768.86 97.96L770.05 97.85L771.23 97.74L772.42 97.64L773.60 97.54L774.79 97.43L775.97 97.33L777.16 97.23L778.34 97.13L779.53 97.03L780.71 96.93L781.90 96.83L783.08 96.74L784.27 96.64L785.46 96.55L786.64 96.46L787.83 96.37L789.02 96.28L790.20 96.19L791.39 96.10L792.58 96.01L793.77 95.92L794.95 95.84L796.14 95.76L797.33 95.67L798.52 95.59L799.11 95.55" stroke="#cc0000" stroke-width="2.0"/>
</g>
<g fill="#990099">
<circle cx="175.10" cy="492.40" r="7.4"/>
<circle cx="181.95" cy="512.00" r="7.4"/>
<circle cx="186.45" cy="400.30" r="7.4"/>
<circle cx="196.35" cy="472.30" r="7.4"/>
<circle cx="200.25" cy="364.60" r="7.4"/>
<circle cx="202.25" cy="436.80" r="7.4"/>
<circle cx="211.65" cy="336.90" r="7.4"/>
<circle cx="213.60" cy="454.40" r="7.4"/>
<circle cx="221.15" cy="272.10" r="7.4"/>
<circle cx="232.25" cy="330.30" r="7.4"/>
<circle cx="232.25" cy="391.80" r="7.4"/>
<circle cx="243.55" cy="236.00" r="7.4"/>
<circle cx="243.65" cy="403.40" r="7.4"/>
<circle cx="253.65" cy="156.20" r="7.4"/>
<circle cx="262.85" cy="192.60" r="7.4"/>
<circle cx="276.75" cy="151.10" r="7.4"/>
<circle cx="288.55" cy="187.30" r="7.4"/>
<circle cx="296.15" cy="169.60" r="7.4"/>
<circle cx="300.05" cy="112.00" r="7.4"/>
<circle cx="313.05" cy="107.80" r="7.4"/>
<circle cx="326.65" cy="103.70" r="7.4"/>
<circle cx="324.95" cy="137.00" r="7.4"/>
<circle cx="347.65" cy="154.10" r="7.4"/>
<circle cx="348.45" cy="99.90" r="7.4"/>
<circle cx="371.35" cy="105.50" r="7.4"/>
<circle cx="391.25" cy="146.50" r="7.4"/>
<circle cx="392.95" cy="91.50" r="7.4"/>
<circle cx="413.75" cy="80.70" r="7.4"/>
<circle cx="428.40" cy="159.50" r="7.4"/>
<circle cx="450.75" cy="110.60" r="7.4"/>
<circle cx="488.65" cy="110.50" r="7.4"/>
<circle cx="521.35" cy="126.00" r="7.4"/>
</g>
<rect x="103.75" y="51.75" width="695.25" height="460.00" fill="none" stroke="#000" stroke-width="1.50"/>
<path d="M729.2 431.9H778.3" stroke="#10107a" stroke-width="1.15" stroke-dasharray="3.80 6.60" fill="none"/>
<path d="M729.2 452.85H778.3" stroke="#006a00" stroke-width="1.75" stroke-dasharray="20.8 6.9 3.8 6.5" fill="none"/>
<path d="M729.2 473.3H778.3" stroke="#cc0000" stroke-width="2.3" fill="none"/>
<circle cx="753.8" cy="494.15" r="7.4" fill="#990099"/>
<g font-family="'Liberation Sans', sans-serif" font-weight="bold" font-size="17.29" fill="#000" stroke="#000" stroke-width="0.16" stroke-linejoin="round" style="font-kerning:none;font-variant-ligatures:none">
<text transform="translate(369.20 29.50) scale(1 1.000)">RPQM, m<tspan font-family="'Liberation Serif', serif" font-weight="normal" stroke-width="0.25" font-size="14.94" dx="0.2" dy="5.3">σ</tspan><tspan dx="0.2" dy="-5.3" letter-spacing="-0.14">=500 MeV</tspan></text>
<text transform="translate(92.90 517.75) scale(1 1.000)" text-anchor="end">0</text>
<text transform="translate(92.90 425.75) scale(1 1.000)" text-anchor="end"><tspan letter-spacing="-0.25">0.2</tspan></text>
<text transform="translate(92.90 333.75) scale(1 1.000)" text-anchor="end"><tspan letter-spacing="-0.25">0.4</tspan></text>
<text transform="translate(92.90 241.75) scale(1 1.000)" text-anchor="end"><tspan letter-spacing="-0.25">0.6</tspan></text>
<text transform="translate(92.90 149.75) scale(1 1.000)" text-anchor="end"><tspan letter-spacing="-0.25">0.8</tspan></text>
<text transform="translate(84.08 57.75)" clip-path="url(#one)">1</text>
<text transform="translate(105.97 535.00) scale(1 1.000)" text-anchor="middle"><tspan letter-spacing="-0.25">0.5</tspan></text>
<text transform="translate(240.49 535.00)" clip-path="url(#one)">1</text>
<text transform="translate(372.33 535.00)" clip-path="url(#one)">1</text>
<text transform="translate(381.55 535.00) scale(1 1.000)">.5</text>
<text transform="translate(523.00 535.00) scale(1 1.000)" text-anchor="middle">2</text>
<text transform="translate(662.17 535.00) scale(1 1.000)" text-anchor="middle"><tspan letter-spacing="-0.25">2.5</tspan></text>
<text transform="translate(801.10 535.00) scale(1 1.000)" text-anchor="middle">3</text>
<text transform="translate(431.00 560.50) scale(1 1.000)">T/T<tspan font-family="'Liberation Serif', serif" font-weight="normal" stroke-width="0.25" font-style="italic" font-size="13.83" dx="0.6" dy="-8.4">χ</tspan><tspan font-size="13.83" dx="0.3" dy="13.7">c</tspan></text>
<text transform="translate(38.20 301.50) rotate(-90) scale(1 1.000)"><tspan font-family="'Liberation Serif', serif" font-weight="normal" stroke-width="0.25" font-size="18.67">ε</tspan>/<tspan font-family="'Liberation Serif', serif" font-weight="normal" stroke-width="0.25" font-size="18.67">ε</tspan><tspan font-size="13.83" dy="5.4">SB</tspan></text>
<text transform="translate(543.00 436.90) scale(1 1.000)">Log</text>
<text transform="translate(543.00 457.70) scale(1 1.000)">Log-glue</text>
<text transform="translate(543.00 478.60) scale(1 1.000)">PolyLog-glue</text>
<text transform="translate(543.00 498.20) scale(1 1.000)">CP-PACS <tspan letter-spacing="-0.16">N<tspan font-size="13.83" dy="5.0">f</tspan><tspan dy="-5.0">=2, N</tspan><tspan font-size="13.83" dy="5.0">t</tspan><tspan dy="-5.0">=6</tspan></tspan></text>
</g>
</svg>
</body></html>
